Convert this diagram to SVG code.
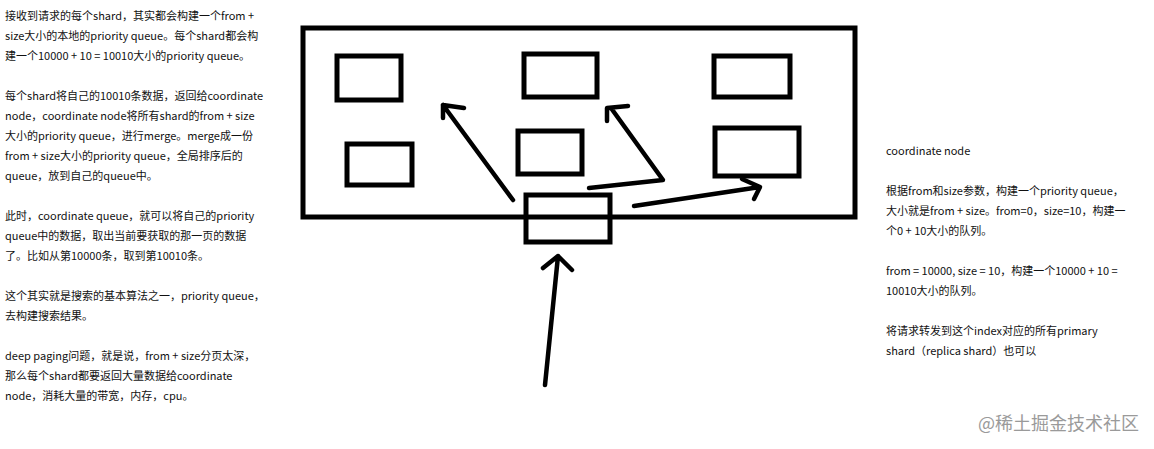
<svg xmlns="http://www.w3.org/2000/svg" width="1154" height="449" viewBox="0 0 1154 449">
<style>
.t{font-family:"Noto Sans CJK SC","Liberation Sans",sans-serif;font-size:11px;fill:#111}
.box{fill:none;stroke:#000;stroke-width:5}
.ln{fill:none;stroke:#000;stroke-width:4.5;stroke-linecap:round;stroke-linejoin:round}
.wm{font-family:"Noto Sans CJK SC","Liberation Sans",sans-serif;font-size:18px;fill:#9a9a9a}
</style>
<rect width="1154" height="449" fill="#fff"/>
<g id="left-text">
<text class="t" x="5" y="20">接收到请求的每个shard，其实都会构建一个from +</text>
<text class="t" x="5" y="40">size大小的本地的priority queue。每个shard都会构</text>
<text class="t" x="5" y="60">建一个10000 + 10 = 10010大小的priority queue。</text>
<text class="t" x="5" y="100">每个shard将自己的10010条数据，返回给coordinate</text>
<text class="t" x="5" y="120">node，coordinate node将所有shard的from + size</text>
<text class="t" x="5" y="140">大小的priority queue，进行merge。merge成一份</text>
<text class="t" x="5" y="160">from + size大小的priority queue，全局排序后的</text>
<text class="t" x="5" y="180">queue，放到自己的queue中。</text>
<text class="t" x="5" y="220">此时，coordinate queue，就可以将自己的priority</text>
<text class="t" x="5" y="240">queue中的数据，取出当前要获取的那一页的数据</text>
<text class="t" x="5" y="260">了。比如从第10000条，取到第10010条。</text>
<text class="t" x="5" y="300">这个其实就是搜索的基本算法之一，priority queue，</text>
<text class="t" x="5" y="320">去构建搜索结果。</text>
<text class="t" x="5" y="360">deep paging问题，就是说，from  + size分页太深，</text>
<text class="t" x="5" y="380">那么每个shard都要返回大量数据给coordinate</text>
<text class="t" x="5" y="400">node，消耗大量的带宽，内存，cpu。</text>
</g>
<g id="right-text">
<text class="t" x="886" y="155">coordinate node</text>
<text class="t" x="886" y="195">根据from和size参数，构建一个priority queue，</text>
<text class="t" x="886" y="215">大小就是from + size。from=0，size=10，构建一</text>
<text class="t" x="886" y="235">个0 + 10大小的队列。</text>
<text class="t" x="886" y="275">from = 10000, size = 10，构建一个10000 + 10 =</text>
<text class="t" x="886" y="295">10010大小的队列。</text>
<text class="t" x="886" y="335">将请求转发到这个index对应的所有primary</text>
<text class="t" x="886" y="355">shard（replica shard）也可以</text>
</g>
<g id="index-container"><rect class="box" x="303" y="28" width="552" height="189"/></g>
<g id="shard-1"><rect class="box" x="337" y="56" width="64" height="44"/></g>
<g id="shard-2"><rect class="box" x="524" y="54" width="73" height="43"/></g>
<g id="shard-3"><rect class="box" x="714" y="56" width="76" height="41"/></g>
<g id="shard-4"><rect class="box" x="347" y="144" width="65" height="41"/></g>
<g id="shard-5"><rect class="box" x="518" y="131" width="64" height="43"/></g>
<g id="shard-6"><rect class="box" x="715" y="128" width="84" height="48"/></g>
<g id="coordinate-node"><rect class="box" x="526" y="195" width="84" height="47"/></g>
<g id="connectors">
<path class="ln" d="M513,200 L443,105 M443,118 L443,105 L464,108"/>
<path class="ln" d="M589,188 L663,180 L611,108 M607,121 L607,108 L628,106"/>
<path class="ln" d="M634,206 L760,187 M742,179 L760,187 L754,199"/>
<path class="ln" d="M545,385 L558,256 M543,268 L558,256 L572,270"/>
</g>
<g id="watermark"><text class="wm" x="978" y="430">@稀土掘金技术社区</text></g>
</svg>
